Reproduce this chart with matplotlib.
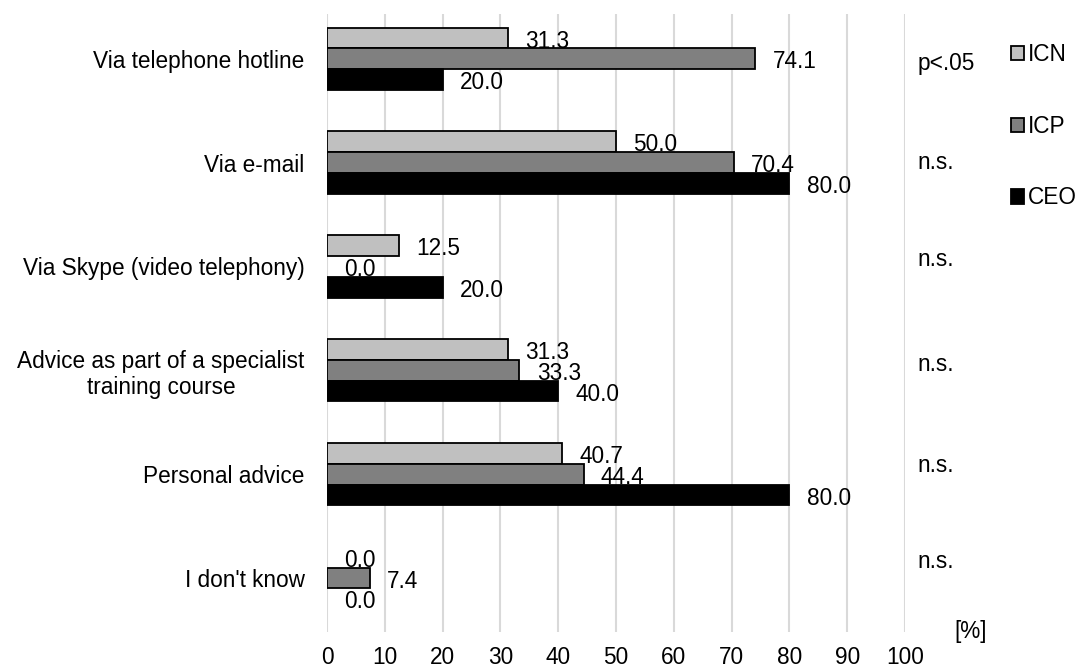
import matplotlib.pyplot as plt
import numpy as np

plt.rcParams["font.family"] = ["Liberation Sans", "DejaVu Sans"]

categories = [
    "Via telephone hotline",
    "Via e-mail",
    "Via Skype (video telephony)",
    "Advice as part of a specialist\ntraining course",
    "Personal advice",
    "I don't know",
]
icn = [31.3, 50.0, 12.5, 31.3, 40.7, 0.0]
icp = [74.1, 70.4, 0.0, 33.3, 44.4, 7.4]
ceo = [20.0, 80.0, 20.0, 40.0, 80.0, 0.0]
pvals = ["p<.05", "n.s.", "n.s.", "n.s.", "n.s.", "n.s."]

series = [("ICN", icn, "#c0c0c0"), ("ICP", icp, "#808080"), ("CEO", ceo, "#000000")]

fig = plt.figure(figsize=(10.78, 6.68), dpi=100)
ax = fig.add_axes([0.3033, 0.0539, 0.5362, 0.9251])

y = np.arange(len(categories))
h = 0.2
fs = 16.3

for k, (name, vals, col) in enumerate(series):
    pos = y + (k - 1) * h
    # zero bars have no visible outline in the original
    lws = [1.3 if v > 0 else 0 for v in vals]
    ax.barh(pos, vals, height=h, color=col, edgecolor="black", linewidth=lws,
            label=name, zorder=3)
    for p, v in zip(pos, vals):
        ax.text(v + 3.0, p + 0.03, f"{v:.1f}", va="center", ha="left",
                fontsize=fs, zorder=4)

# p-value column, placed like the text boxes of the original
p_shift = [0.05, 0.0, -0.07, -0.06, -0.08, -0.16]
for i, (t, s) in enumerate(zip(pvals, p_shift)):
    ax.text(102.1, i + s, t, va="center", ha="left", fontsize=fs, clip_on=False)

ax.set_xlim(0, 100)
ax.set_ylim(5.52, -0.43)
ax.set_xticks(np.arange(0, 101, 10))
ax.set_yticks(y)
ax.set_yticklabels(categories, fontsize=fs, ha="right", multialignment="center")
ax.tick_params(axis="x", length=0, pad=10, labelsize=fs)
ax.tick_params(axis="y", length=0, pad=16)
ax.grid(axis="x", color="#d9d9d9", linewidth=1.5, zorder=0)
for s in ax.spines.values():
    s.set_visible(False)

ax.text(108.6, 0.0, "[%]", transform=ax.get_xaxis_transform(), va="center",
        ha="left", fontsize=fs, clip_on=False)

fig.legend(loc="upper left", bbox_to_anchor=(0.929, 0.949), frameon=False,
           fontsize=fs, handlelength=0.6, handleheight=0.6, handletextpad=0.15,
           labelspacing=2.15, borderaxespad=0)

fig.savefig("out.png", dpi=100)
